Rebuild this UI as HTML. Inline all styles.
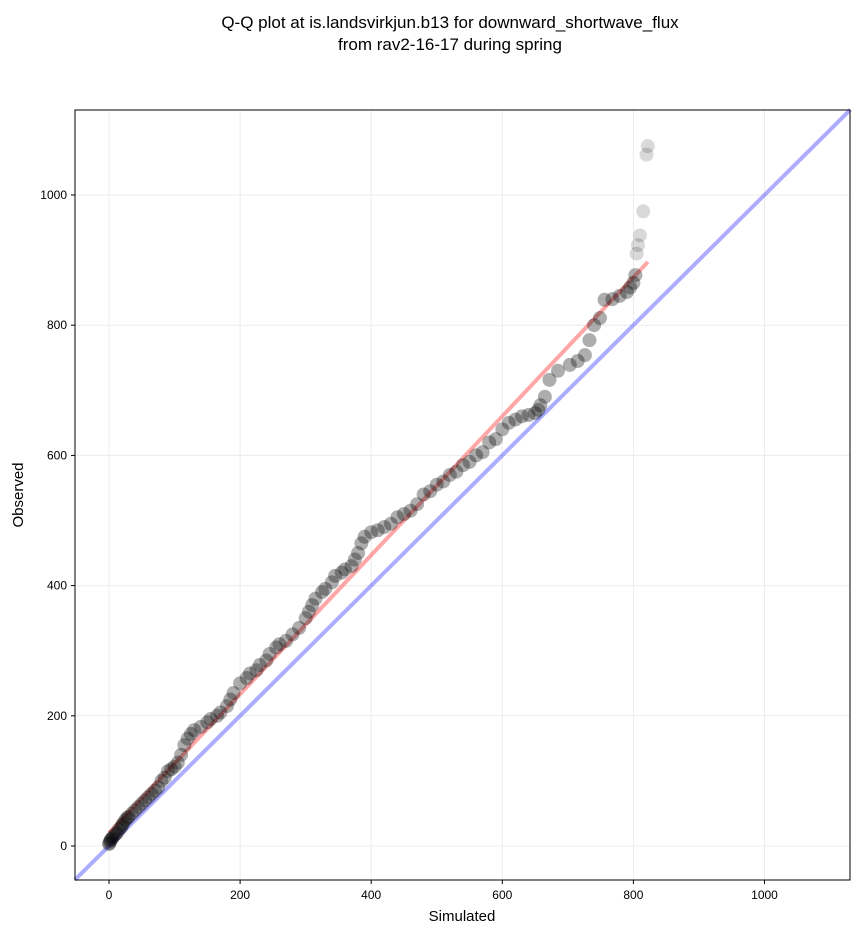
<!DOCTYPE html>
<html><head><meta charset="utf-8"><style>
body{margin:0;background:#fff;font-family:"Liberation Sans","DejaVu Sans",sans-serif;}
</style></head><body>
<svg width="860" height="934" xmlns="http://www.w3.org/2000/svg">
<text x="450" y="28" text-anchor="middle" font-size="17">Q-Q plot at is.landsvirkjun.b13 for downward_shortwave_flux</text>
<text x="450" y="50" text-anchor="middle" font-size="17">from rav2-16-17 during spring</text>
<g id="grid"></g>
<g id="lines"></g>
<g id="pts"></g>
<rect x="75" y="110" width="775" height="770" fill="none" stroke="#000" stroke-width="1"/>
<g id="ticks" font-size="12"></g>
<text x="462" y="921" text-anchor="middle" font-size="15">Simulated</text>
<text x="23" y="495" text-anchor="middle" font-size="15" transform="rotate(-90 23 495)">Observed</text>
</svg>
<script>
const xTicks=[0,200,400,600,800,1000];
const yTicks=[0,200,400,600,800,1000];
const simulated=[
0,1,2,3,5,7,10,12,15,18,
20,22,25,28,30,35,40,45,50,55,
60,65,70,75,80,85,90,95,100,105,
110,115,120,125,130,140,150,155,165,170,
180,185,190,200,210,215,225,230,240,245,
255,260,270,280,290,300,305,310,315,325,
330,340,345,355,360,370,375,380,385,390,
400,410,420,430,440,450,460,470,480,490,
500,510,520,530,540,550,560,570,580,590,
600,610,620,630,640,650,655,658,665,672,
685,703,715,726,733,740,749,756,768,779,
790,795,800,803,805,807,810,815,820,822];
const observed=[
3,5,8,10,12,15,18,20,25,28,
32,35,40,43,45,50,55,60,65,70,
75,80,85,90,100,105,115,118,122,128,
140,155,165,172,178,183,190,195,200,205,
215,225,235,250,258,265,270,278,285,295,
305,310,315,325,335,350,360,370,380,390,
395,405,415,420,425,430,440,450,465,475,
482,485,490,495,505,510,515,525,540,545,
555,560,570,575,585,590,600,605,620,625,
640,650,655,660,662,665,670,677,690,716,
730,739,745,754,777,800,811,839,840,845,
851,858,865,877,910,923,938,975,1062,1075];
const X=v=>109+v*0.6555, Y=v=>846-v*0.651;
const ns="http://www.w3.org/2000/svg";
function mk(t,a,p){const e=document.createElementNS(ns,t);for(const k in a)e.setAttribute(k,a[k]);p.appendChild(e);return e;}
const grid=document.getElementById('grid'),tk=document.getElementById('ticks');
xTicks.forEach(v=>{const g=mk('line',{x1:X(v),x2:X(v),y1:110,y2:880,stroke:'#ececec'},grid);


mk('line',{x1:X(v),x2:X(v),y1:880,y2:884,stroke:'#000'},tk);
const t=mk('text',{x:X(v),y:899,'text-anchor':'middle'},tk);t.textContent=v;

});
yTicks.forEach(v=>{const g=mk('line',{x1:75,x2:850,y1:Y(v),y2:Y(v),stroke:'#ececec'},grid);


mk('line',{x1:71,x2:75,y1:Y(v),y2:Y(v),stroke:'#000'},tk);
const t=mk('text',{x:67,y:Y(v)+4,'text-anchor':'end'},tk);t.textContent=v;

});
const L=document.getElementById('lines');
const b=mk('line',{x1:X(-52),y1:Y(-52),x2:X(1131),y2:Y(1131),stroke:'rgba(0,0,255,0.32)','stroke-width':4},L);


const r=mk('line',{x1:X(0),y1:Y(20),x2:X(822),y2:Y(897),stroke:'rgba(255,0,0,0.35)','stroke-width':4},L);


const P=document.getElementById('pts');
simulated.forEach((s,i)=>{const hi=observed[i]>900;
const c=mk('circle',{cx:X(s),cy:Y(observed[i]),r:7,fill:hi?'rgba(0,0,0,0.15)':'rgba(0,0,0,0.32)'},P);

});
</script>
</body></html>
